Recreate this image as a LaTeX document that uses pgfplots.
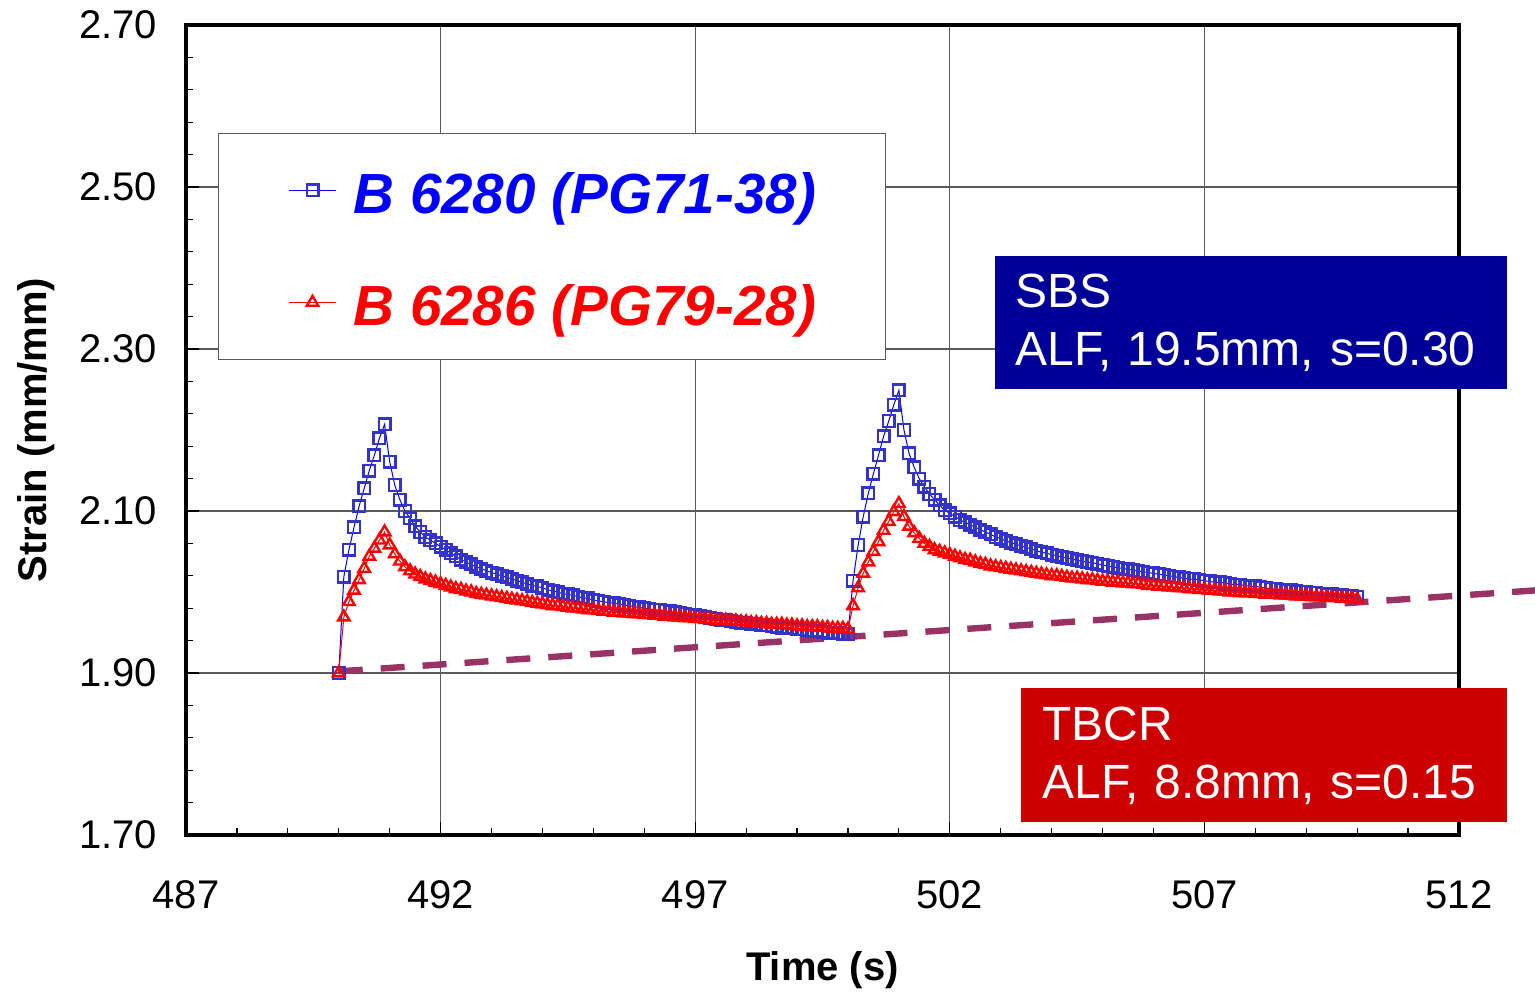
\documentclass[border=0pt]{standalone}
\usepackage{fontspec}
\setmainfont{Liberation Sans}
\usepackage{pgfplots}
\usepackage{pgfplotstable}
\pgfplotsset{compat=1.18}

\definecolor{sbsblue}{RGB}{0,0,153}
\definecolor{tbcrred}{RGB}{204,0,0}
\definecolor{markblue}{RGB}{51,51,204}
\definecolor{trendline}{RGB}{153,51,102}
\definecolor{gridgray}{RGB}{90,90,90}

% time (s), strain of B 6280 (b) and B 6286 (r), mm/mm
\pgfplotstableread{
t b r
490.0 1.900 1.900
490.1 2.019 1.969
490.2 2.052 1.988
490.3 2.080 2.002
490.4 2.106 2.015
490.5 2.128 2.029
490.6 2.150 2.044
490.7 2.169 2.054
490.8 2.190 2.064
490.9 2.207 2.074
491.0 2.161 2.058
491.1 2.132 2.047
491.2 2.114 2.038
491.3 2.100 2.031
491.4 2.091 2.026
491.5 2.081 2.022
491.6 2.074 2.019
491.7 2.068 2.016
491.8 2.064 2.014
491.9 2.060 2.012
492.0 2.056 2.010
492.1 2.052 2.008
492.2 2.048 2.006
492.3 2.044 2.004
492.4 2.040 2.003
492.5 2.037 2.001
492.6 2.034 2.000
492.7 2.031 1.998
492.8 2.029 1.997
492.9 2.026 1.996
493.0 2.024 1.995
493.1 2.022 1.994
493.2 2.020 1.993
493.3 2.018 1.992
493.4 2.016 1.991
493.5 2.014 1.990
493.6 2.012 1.989
493.7 2.010 1.988
493.8 2.008 1.987
493.9 2.007 1.986
494.0 2.005 1.985
494.1 2.003 1.984
494.2 2.001 1.983
494.3 2.000 1.983
494.4 1.998 1.982
494.5 1.997 1.981
494.6 1.996 1.980
494.7 1.994 1.980
494.8 1.993 1.979
494.9 1.992 1.978
495.0 1.990 1.978
495.1 1.989 1.977
495.2 1.988 1.976
495.3 1.987 1.976
495.4 1.986 1.975
495.5 1.985 1.975
495.6 1.984 1.974
495.7 1.983 1.974
495.8 1.982 1.973
495.9 1.981 1.973
496.0 1.980 1.972
496.1 1.979 1.972
496.2 1.978 1.971
496.3 1.978 1.971
496.4 1.977 1.970
496.5 1.976 1.970
496.6 1.975 1.969
496.7 1.974 1.969
496.8 1.973 1.968
496.9 1.972 1.968
497.0 1.971 1.967
497.1 1.970 1.967
497.2 1.969 1.966
497.3 1.968 1.966
497.4 1.967 1.965
497.5 1.966 1.965
497.6 1.965 1.965
497.7 1.964 1.964
497.8 1.963 1.964
497.9 1.962 1.963
498.0 1.962 1.963
498.1 1.961 1.962
498.2 1.960 1.962
498.3 1.959 1.961
498.4 1.959 1.961
498.5 1.958 1.960
498.6 1.957 1.960
498.7 1.956 1.960
498.8 1.956 1.959
498.9 1.955 1.959
499.0 1.954 1.958
499.1 1.954 1.958
499.2 1.953 1.957
499.3 1.952 1.957
499.4 1.952 1.957
499.5 1.951 1.956
499.6 1.950 1.956
499.7 1.950 1.955
499.8 1.949 1.955
499.9 1.948 1.955
500.0 1.948 1.954
500.1 2.014 1.983
500.2 2.058 2.005
500.3 2.093 2.023
500.4 2.122 2.037
500.5 2.146 2.050
500.6 2.169 2.062
500.7 2.192 2.076
500.8 2.211 2.087
500.9 2.231 2.099
501.0 2.249 2.109
501.1 2.200 2.093
501.2 2.171 2.081
501.3 2.154 2.073
501.4 2.140 2.066
501.5 2.130 2.060
501.6 2.121 2.056
501.7 2.114 2.052
501.8 2.107 2.050
501.9 2.101 2.048
502.0 2.097 2.046
502.1 2.093 2.044
502.2 2.089 2.042
502.3 2.086 2.040
502.4 2.083 2.039
502.5 2.080 2.037
502.6 2.077 2.035
502.7 2.074 2.034
502.8 2.071 2.032
502.9 2.068 2.031
503.0 2.066 2.030
503.1 2.063 2.029
503.2 2.061 2.028
503.3 2.059 2.027
503.4 2.057 2.026
503.5 2.055 2.025
503.6 2.053 2.024
503.7 2.051 2.023
503.8 2.049 2.022
503.9 2.048 2.021
504.0 2.046 2.020
504.1 2.045 2.020
504.2 2.043 2.019
504.3 2.042 2.018
504.4 2.041 2.017
504.5 2.039 2.017
504.6 2.038 2.016
504.7 2.037 2.015
504.8 2.036 2.015
504.9 2.035 2.014
505.0 2.033 2.013
505.1 2.032 2.013
505.2 2.031 2.012
505.3 2.030 2.012
505.4 2.029 2.011
505.5 2.028 2.011
505.6 2.027 2.010
505.7 2.026 2.010
505.8 2.025 2.009
505.9 2.024 2.008
506.0 2.023 2.008
506.1 2.022 2.007
506.2 2.021 2.007
506.3 2.020 2.006
506.4 2.019 2.006
506.5 2.018 2.005
506.6 2.017 2.005
506.7 2.016 2.004
506.8 2.016 2.004
506.9 2.015 2.003
507.0 2.014 2.003
507.1 2.013 2.002
507.2 2.012 2.002
507.3 2.012 2.001
507.4 2.011 2.001
507.5 2.010 2.000
507.6 2.009 2.000
507.7 2.009 1.999
507.8 2.008 1.999
507.9 2.007 1.999
508.0 2.007 1.998
508.1 2.006 1.998
508.2 2.005 1.997
508.3 2.004 1.997
508.4 2.004 1.997
508.5 2.003 1.996
508.6 2.002 1.996
508.7 2.002 1.996
508.8 2.001 1.995
508.9 2.000 1.995
509.0 2.000 1.995
509.1 1.999 1.994
509.2 1.999 1.994
509.3 1.998 1.994
509.4 1.997 1.993
509.5 1.997 1.993
509.6 1.996 1.993
509.7 1.996 1.992
509.8 1.995 1.992
509.9 1.995 1.992
510.0 1.994 1.991
}\straindata

\begin{document}
\begin{tikzpicture}
\begin{axis}[
  scale only axis,
  width=636.5pt, height=405pt,
  xmin=487, xmax=512, ymin=1.7, ymax=2.7,
  xtick={487,492,497,502,507,512},
  ytick={1.7,1.9,2.1,2.3,2.5,2.7},
  minor x tick num=4, minor y tick num=4,
  tick pos=left, tick align=inside,
  major tick length=6.5pt, minor tick length=3.5pt,
  tick style={black, line width=0.6pt},
  grid=major,
  major grid style={gridgray, line width=0.6pt},
  axis line style={line width=1.6pt},
  clip=false,
  /pgf/number format/assume math mode=true,
  ticklabel style={font=\fontsize{20}{24}\selectfont},
  xticklabel style={yshift=-19pt},
  yticklabel style={xshift=-11pt, /pgf/number format/.cd, fixed, fixed zerofill, precision=2},
  xlabel={Time (s)}, ylabel={Strain (mm/mm)},
  label style={font=\fontsize{20}{24}\selectfont\bfseries},
  xlabel style={at={(axis description cs:0.5,-0.179)}, anchor=base},
  ylabel style={at={(axis description cs:-0.1092,0.5)}, anchor=base},
  legend style={at={(axis description cs:0.02514,0.8667)}, anchor=north west,
    draw=gridgray, line width=0.5pt, fill=white,
    font=\fontsize{28.3}{34}\selectfont\bfseries\itshape,
    inner xsep=35pt, inner ysep=17pt, row sep=33pt, column sep=8.5pt,
    nodes={inner sep=0pt, text height=23pt, text depth=0pt}},
  legend image code/.code={\draw[mark repeat=2, mark phase=2, #1]
    plot coordinates {(0pt,0pt) (11.75pt,0pt) (23.5pt,0pt)};},
]
\addplot[blue, line width=0.5pt, mark=square, mark size=2.9pt,
  mark options={markblue, line width=1.2pt, solid}]
  table[x=t, y=b] {\straindata};
\addlegendentry{\color{blue}B 6280 (PG71-38)}
\addplot[red, line width=0.5pt, mark=triangle, mark size=3.3pt,
  mark options={red, line width=1.2pt, solid}]
  table[x=t, y=r] {\straindata};
\addlegendentry{\color{red}B 6286 (PG79-28)}
% baseline creep trend
\addplot[trendline, line width=3.2pt, dash pattern=on 12pt off 9pt, forget plot]
  coordinates {(490.0,1.902) (513.5,2.002)};

\node[fill=sbsblue, text=white, anchor=north west, minimum width=256pt,
  minimum height=66.5pt, text width=236pt, inner xsep=10pt, inner ysep=0pt,
  align=left, font=\fontsize{24}{29}\selectfont]
  at (axis cs:502.888,2.4148) {SBS\\ALF, 19.5mm, s=0.30};
\node[fill=tbcrred, text=white, anchor=north west, minimum width=243pt,
  minimum height=67pt, text width=222pt, inner xsep=10.5pt, inner ysep=0pt,
  align=left, font=\fontsize{24}{29}\selectfont]
  at (axis cs:503.398,1.8815) {TBCR\\ALF, 8.8mm, s=0.15};
\end{axis}
\pgfresetboundingbox
\path[use as bounding box] (-93pt,-78pt) rectangle (674.5pt,417.5pt);
\end{tikzpicture}
\end{document}
